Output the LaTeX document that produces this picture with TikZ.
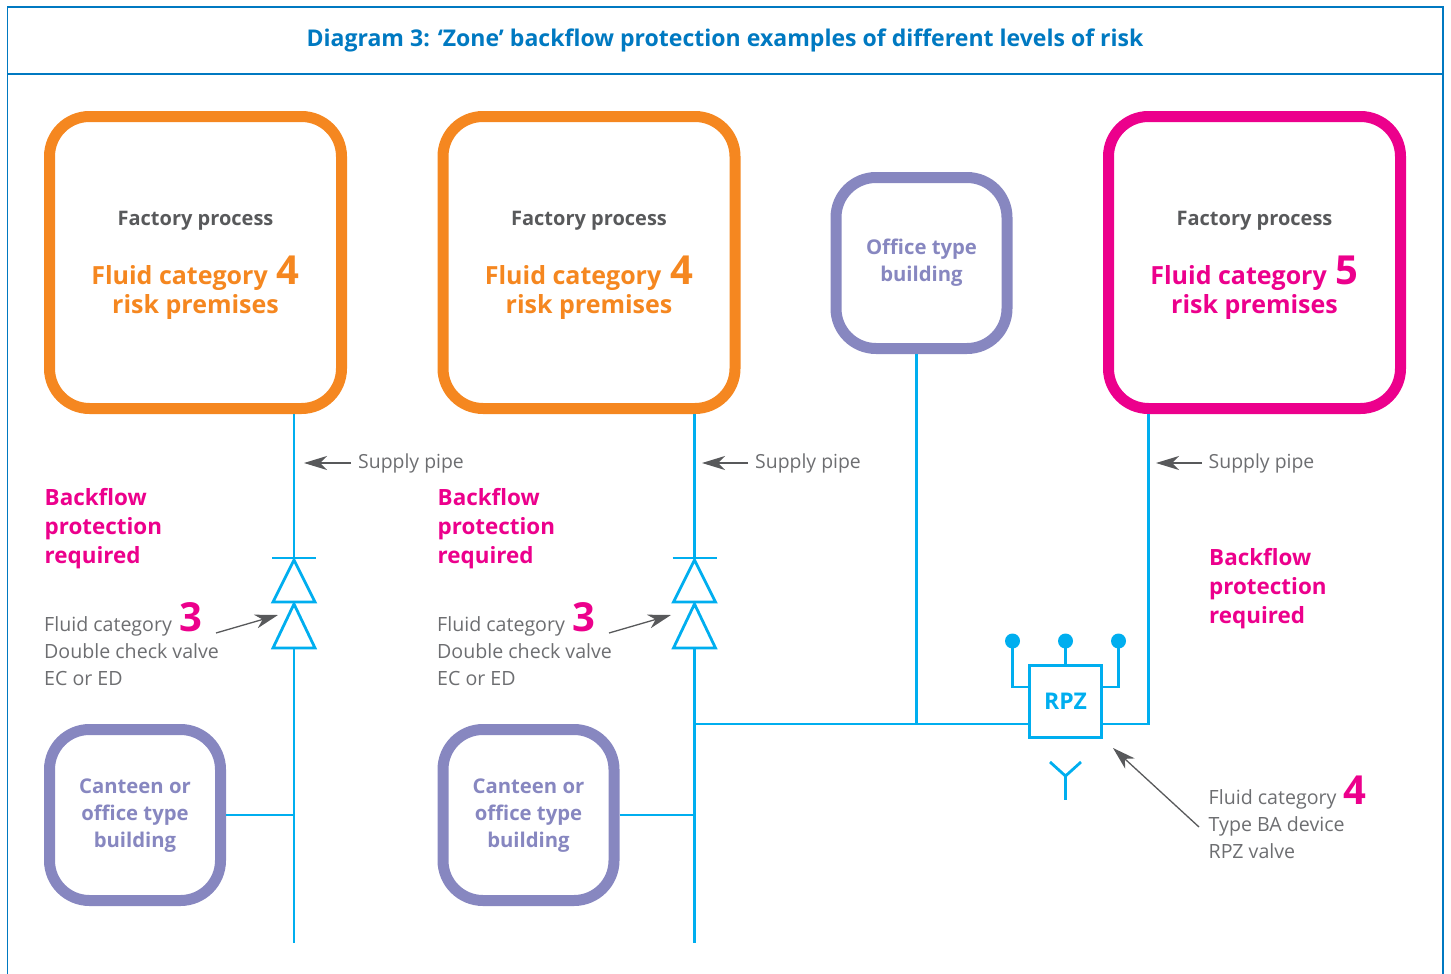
\documentclass[tikz,border=0pt]{standalone}
\usepackage{fontspec}
\setmainfont{Open Sans}
\usetikzlibrary{arrows.meta,positioning}
\definecolor{titleblue}{HTML}{0079C1}
\definecolor{pipeblue}{HTML}{00AEEF}
\definecolor{riskorange}{HTML}{F58720}
\definecolor{riskpink}{HTML}{EC008C}
\definecolor{officeblue}{HTML}{8787C0}
\definecolor{notegray}{HTML}{6D6E71}
\definecolor{headgray}{HTML}{58595B}
\newcommand{\bignum}[1]{{\fontsize{40}{38}\selectfont\bfseries #1}}
\tikzset{
    riskbox/.style={draw,line width=11pt,rounded corners=40pt,minimum size=292pt,outer sep=5.5pt,inner sep=0pt},
    officebox/.style={draw=officeblue,line width=11pt,rounded corners=40pt,minimum size=171pt,outer sep=5.5pt,inner sep=0pt},
    pipe/.style={pipeblue,line width=2.8pt},
    note/.style={headgray,line width=1.3pt,-{Stealth[length=23pt,width=14pt,inset=7pt]}},
    headtext/.style={font=\fontsize{20}{26}\selectfont\bfseries,text=headgray,align=center,inner sep=0pt},
    risktext/.style={font=\fontsize{25}{29}\selectfont\bfseries,align=center,inner sep=0pt},
    officetext/.style={font=\fontsize{20.3}{27}\selectfont\bfseries,text=officeblue,align=center,inner sep=0pt},
    pinktext/.style={font=\fontsize{22.4}{29}\selectfont\bfseries,text=riskpink,align=left,anchor=north west,inner sep=0pt},
    notetext/.style={font=\fontsize{19.6}{27}\selectfont,text=notegray,align=left,anchor=north west,inner sep=0pt},
}
\begin{document}
\begin{tikzpicture}[x=1pt,y=-1pt]
    \useasboundingbox (0,0) rectangle (1451,974);

    % Frame and title
    \draw[titleblue,line width=1.5pt] (7.5,974) -- (7.5,7) -- (1443,7) -- (1443,974);
    \draw[titleblue,line width=1.5pt] (7.5,74) -- (1443,74);
    \node[font=\fontsize{23.05}{29}\selectfont\bfseries,text=titleblue] (title) at (725,40) {Diagram 3: ‘Zone’ backflow protection examples of different levels of risk};

    % Premises
    \node[riskbox,draw=riskorange] (factoryA) at (195.5,262.5) {};
    \node[riskbox,draw=riskorange] (factoryB) at (589,262.5) {};
    \node[riskbox,draw=riskpink] (factoryC) at (1254.5,262.5) {};
    \node[officebox] (office) at (921.5,263) {};
    \node[officebox] (canteenA) at (135,815) {};
    \node[officebox] (canteenB) at (528.5,815) {};

    \node[headtext] (headA) at (195.5,221) {Factory process};
    \node[headtext] (headB) at (589,221) {Factory process};
    \node[headtext] (headC) at (1254.5,221) {Factory process};
    \node[risktext,text=riskorange] (riskA) at (195.5,288) {Fluid category\hspace{9pt}\bignum{4}\\risk premises};
    \node[risktext,text=riskorange] (riskB) at (589,288) {Fluid category\hspace{9pt}\bignum{4}\\risk premises};
    \node[risktext,text=riskpink] (riskC) at (1254.5,288) {Fluid category\hspace{9pt}\bignum{5}\\risk premises};
    \node[officetext] (officeText) at (921.5,263) {Office type\\building};
    \node[officetext] (canteenTextA) at (135,816) {Canteen or\\office type\\building};
    \node[officetext] (canteenTextB) at (528.5,816) {Canteen or\\office type\\building};

    % RPZ valve
    \node[draw=pipeblue,line width=2.8pt,minimum size=72pt,outer sep=0pt,inner sep=0pt,text=pipeblue,font=\fontsize{23}{26}\selectfont\bfseries] (rpz) at (1065.5,701.5) {RPZ};
    \fill[pipeblue] (1012.5,641) circle (7.5pt) coordinate (dotL);
    \fill[pipeblue] (1065.5,641) circle (7.5pt) coordinate (dotM);
    \fill[pipeblue] (1118.5,641) circle (7.5pt) coordinate (dotR);
    \coordinate (rpzL) at (1029.5,687);
    \coordinate (rpzR) at (1101.5,687);
    \draw[pipe] (dotL) |- (rpzL);
    \draw[pipe] (dotM) -- (rpz.north);
    \draw[pipe] (dotR) |- (rpzR);
    \coordinate (airgap) at (1065.5,776);
    \draw[pipe] (1050,762) -- (airgap) -- (1081,762);
    \draw[pipe] (airgap) -- (1065.5,800);

    % Double check valves
    \coordinate (valveAtop) at (294,558);
    \coordinate (valveAbot) at (294,648);
    \coordinate (valveBtop) at (694.5,558);
    \coordinate (valveBbot) at (694.5,648);
    \coordinate (pipeAend) at (294,943);
    \coordinate (pipeBend) at (694.5,943);
    \draw[pipe] (272,558) -- (316,558);
    \draw[pipe] (294,560) -- (315,602) -- (273,602) -- cycle;
    \draw[pipe] (294,604) -- (315,648) -- (273,648) -- cycle;
    \draw[pipe] (672.5,558) -- (716.5,558);
    \draw[pipe] (694.5,560) -- (715.5,602) -- (673.5,602) -- cycle;
    \draw[pipe] (694.5,604) -- (715.5,648) -- (673.5,648) -- cycle;

    % Pipes
    \draw[pipe] (factoryA.south -| valveAtop) -- (valveAtop);
    \draw[pipe] (valveAbot) -- (pipeAend);
    \draw[pipe] (factoryB.south -| valveBtop) -- (valveBtop);
    \draw[pipe] (valveBbot) -- (pipeBend);
    \draw[pipe] (canteenA.east) -- (canteenA.east -| valveAbot);
    \draw[pipe] (canteenB.east) -- (canteenB.east -| valveBbot);
    \coordinate (mainR) at (1148.5,724);
    \draw[pipe] (mainR -| valveBbot) -- (mainR -| rpz.west);
    \draw[pipe] (office.south -| 916.5,0) -- (916.5,724);
    \draw[pipe] (factoryC.south -| mainR) -- (mainR) -- (mainR -| rpz.east);

    % Labels
    \node[notetext,anchor=west,font=\fontsize{19.4}{27}\selectfont] (supplyA) at (358,463) {Supply pipe};
    \node[notetext,anchor=west,font=\fontsize{19.4}{27}\selectfont] (supplyB) at (755,463) {Supply pipe};
    \node[notetext,anchor=west,font=\fontsize{19.4}{27}\selectfont] (supplyC) at (1208.5,463) {Supply pipe};
    \coordinate (supplyTipA) at (304,463);
    \coordinate (supplyTipB) at (702,463);
    \coordinate (supplyTipC) at (1156,463);
    \draw[note] (351,463) -- (supplyTipA);
    \draw[note] (748,463) -- (supplyTipB);
    \draw[note] (1202,463) -- (supplyTipC);

    \node[pinktext] (backflowA) at (44.5,488) {Backflow\\protection\\required};
    \node[pinktext] (backflowB) at (437.5,488) {Backflow\\protection\\required};
    \node[pinktext] (backflowC) at (1209,548) {Backflow\\protection\\required};

    \node[notetext,anchor=base west] (valveTextA) at (44,685) {Fluid category\hspace{8pt}\textcolor{riskpink}{\bignum{3}}\\Double check valve\\EC or ED};
    \node[notetext,anchor=base west] (valveTextB) at (437,685) {Fluid category\hspace{8pt}\textcolor{riskpink}{\bignum{3}}\\Double check valve\\EC or ED};
    \node[notetext,anchor=base west] (rpzText) at (1208.5,858) {Fluid category\hspace{7pt}\textcolor{riskpink}{\bignum{4}}\\Type BA device\\RPZ valve};
    \coordinate (valveTipA) at (278,615);
    \coordinate (valveTipB) at (671,615);
    \coordinate (rpzTip) at (1113,748);
    \draw[note] (216,633) -- (valveTipA);
    \draw[note] (609,633) -- (valveTipB);
    \draw[note] (1199,827) -- (rpzTip);
\end{tikzpicture}
\end{document}
